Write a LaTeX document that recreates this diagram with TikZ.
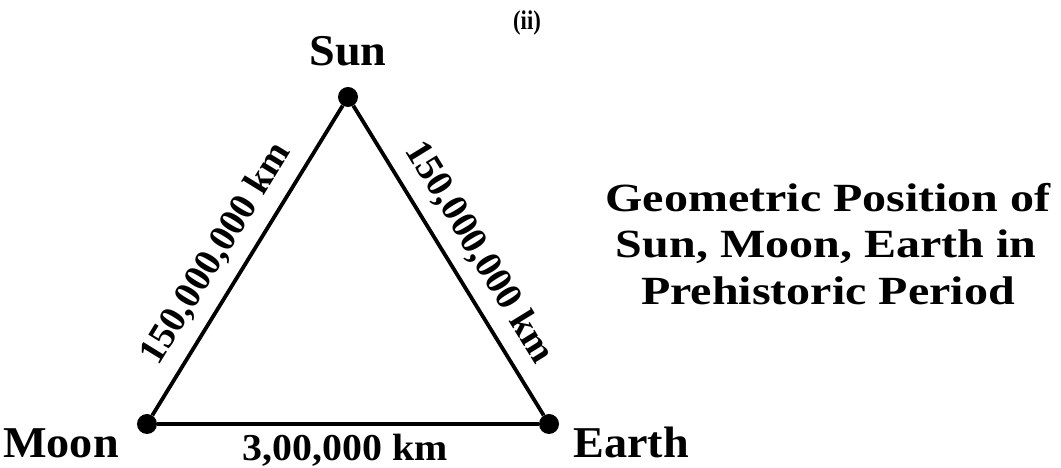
\documentclass[tikz,border=0pt]{standalone}
\usepackage{fontspec}
\setmainfont{Liberation Serif}
\begin{document}
\begin{tikzpicture}[x=1pt,y=1pt,
  dot/.style={circle,fill=black,inner sep=0pt,minimum size=20pt},
  body/.style={font=\bfseries\fontsize{44}{50}\selectfont,inner sep=0pt,anchor=base,xscale=1.05},
  edgelbl/.style={font=\bfseries\fontsize{38}{44}\selectfont,inner sep=0pt,sloped},
  titlelbl/.style={font=\bfseries\fontsize{40}{46}\selectfont,inner sep=0pt,anchor=base,xscale=1.2},
  side/.style={line width=3.8pt}]
\useasboundingbox (0,0) rectangle (1061,468);
% points
\node[dot] (sun) at (348,371) {};
\node[dot] (moon) at (147,44) {};
\node[dot] (earth) at (549,44) {};
% sides
\draw[side] (moon) -- node[edgelbl,pos=0.47,above=20pt,anchor=base] (lblms) {150,000,000 km} (sun);
\draw[side] (sun) -- node[edgelbl,pos=0.525,above=20pt,anchor=base] (lblse) {150,000,000 km} (earth);
\draw[side] (moon) -- (earth);
% labels
\node[body] (sunlbl) at (348,402) {Sun};
\node[body] (moonlbl) at (61,10) {Moon};
\node[body] (earthlbl) at (631,10) {Earth};
\node[body,font=\bfseries\fontsize{38}{44}\selectfont] (melbl) at (345,7) {3,00,000 km};
\node[body,font=\bfseries\fontsize{27}{32}\selectfont,xscale=0.8] (ii) at (527,438) {(ii)};
% title
\node[titlelbl] (t1) at (828,256) {Geometric Position of};
\node[titlelbl] (t2) at (826,210) {Sun, Moon, Earth in};
\node[titlelbl] (t3) at (828,163) {Prehistoric Period};
\end{tikzpicture}
\end{document}
